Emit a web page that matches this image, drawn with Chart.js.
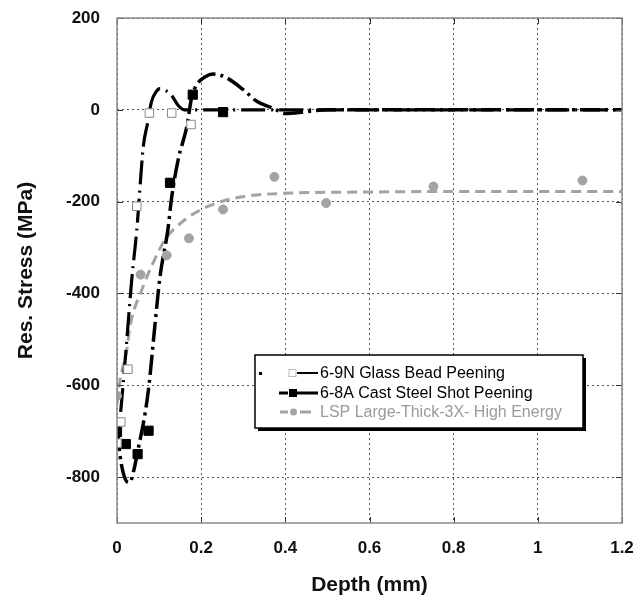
<!DOCTYPE html>
<html>
<head>
<meta charset="utf-8">
<script src="https://cdn.jsdelivr.net/npm/chart.js@4.4.0/dist/chart.umd.min.js"></script>
<style>
  html, body { margin: 0; padding: 0; background: #fff; }
  canvas { display: block; }
</style>
</head>
<body>
<canvas id="chart" width="639" height="598"></canvas>
<script>
const xTicks = [0, 0.2, 0.4, 0.6, 0.8, 1, 1.2];
const yTicks = [-800, -600, -400, -200, 0, 200];

// measured points
const glassDepth = [0, 0.009, 0.026, 0.047, 0.077, 0.13, 0.176];
const glassStress = [-726, -680, -565, -210, -7, -7, -32];
const steelDepth = [0, 0.021, 0.049, 0.075, 0.126, 0.18, 0.252];
const steelStress = [-702, -728, -750, -699, -159, 33, -5];
const lspDepth = [0, 0.056, 0.118, 0.171, 0.252, 0.374, 0.497, 0.752, 1.106];
const lspStress = [-623, -359, -317, -280, -217, -146, -203, -167, -154];

// fitted curves
const glassFitDepth = [0, 0.011, 0.023, 0.035, 0.047, 0.0625, 0.072, 0.082, 0.092, 0.102, 0.115, 0.13, 0.145, 0.16, 0.2, 0.4, 0.6, 0.8, 1, 1.2];
const glassFitStress = [-740, -635, -505, -370, -262, -80, -32, 18, 38, 46, 42, 31, 10, 0, 0, 0, 0, 0, 0, 0];
const steelFitDepth = [0, 0.01, 0.02, 0.03, 0.04, 0.05, 0.067, 0.076, 0.09, 0.102, 0.121, 0.13, 0.145, 0.166, 0.177, 0.19, 0.21, 0.228, 0.26, 0.3, 0.333, 0.372, 0.4, 0.45, 0.5, 0.6, 0.8, 1, 1.2];
const steelFitStress = [-700, -770, -805, -812, -785, -740, -660, -600, -470, -365, -260, -190, -110, -36, 25, 55, 72, 78, 70, 44, 18, 3, -8, -4, 0, 0, 0, 0, 0];
const lspFitDepth = [0, 0.007, 0.023, 0.031, 0.062, 0.086, 0.114, 0.162, 0.217, 0.293, 0.395, 0.6, 0.8, 1, 1.2];
const lspFitStress = [-640, -590, -525, -472, -385, -333, -283, -239, -210, -190, -182, -179, -178, -178, -178];

const GREY = '#a3a3a3';
const FONT = '"Liberation Sans", Arial, sans-serif';

const toPoints = (xs, ys) => xs.map((x, i) => ({ x: x, y: ys[i] }));

const curve = (xs, ys, color, dash, width) => ({
    data: toPoints(xs, ys),
    showLine: true,
    borderColor: color,
    borderWidth: width,
    borderDash: dash,
    pointRadius: 0,
    cubicInterpolationMode: 'monotone',
    order: 2
});

const markers = (xs, ys, style, fill, stroke, radius) => ({
    data: toPoints(xs, ys),
    showLine: false,
    pointStyle: style,
    pointRadius: radius,
    pointBackgroundColor: fill,
    pointBorderColor: stroke,
    pointBorderWidth: 1,
    order: 1
});

// inner tick marks + plot frame
const framePlugin = {
    id: 'frame',
    afterDatasetsDraw(chart) {
        const { ctx, chartArea: a, scales } = chart;
        ctx.save();
        ctx.strokeStyle = '#333';
        ctx.lineWidth = 1;
        ctx.beginPath();
        xTicks.forEach(v => {
            const px = Math.round(scales.x.getPixelForValue(v)) + 0.5;
            ctx.moveTo(px, a.bottom); ctx.lineTo(px, a.bottom - 6);
            ctx.moveTo(px, a.top); ctx.lineTo(px, a.top + 6);
        });
        yTicks.forEach(v => {
            const py = Math.round(scales.y.getPixelForValue(v)) + 0.5;
            ctx.moveTo(a.left, py); ctx.lineTo(a.left + 6, py);
            ctx.moveTo(a.right, py); ctx.lineTo(a.right - 6, py);
        });
        ctx.stroke();
        ctx.strokeStyle = '#8a8a8a';
        ctx.lineWidth = 1.5;
        ctx.strokeRect(a.left, a.top, a.right - a.left, a.bottom - a.top);
        ctx.restore();
    }
};

// boxed legend with shadow, as in the source figure
const legendPlugin = {
    id: 'boxLegend',
    afterDraw(chart) {
        const ctx = chart.ctx;
        const bx = 255, by = 355, bw = 328, bh = 73;
        ctx.save();
        ctx.fillStyle = '#000';
        ctx.fillRect(bx + 3, by + 3, bw, bh);
        ctx.fillStyle = '#fff';
        ctx.fillRect(bx, by, bw, bh);
        ctx.strokeStyle = '#000';
        ctx.lineWidth = 1.5;
        ctx.strokeRect(bx, by, bw, bh);

        const rows = [373, 393, 412];
        const labels = chart.data.datasets.filter(d => d.label).map(d => d.label);

        // row 1
        ctx.fillStyle = '#000';
        ctx.fillRect(259, rows[0] - 1, 3, 3);
        ctx.lineWidth = 2;
        ctx.beginPath(); ctx.moveTo(297, rows[0]); ctx.lineTo(318, rows[0]); ctx.stroke();
        ctx.fillStyle = '#fff';
        ctx.strokeStyle = '#bbb';
        ctx.lineWidth = 1;
        ctx.fillRect(289, rows[0] - 3.5, 7, 7);
        ctx.strokeRect(289, rows[0] - 3.5, 7, 7);

        // row 2
        ctx.strokeStyle = '#000';
        ctx.lineWidth = 3;
        ctx.beginPath(); ctx.moveTo(279, rows[1]); ctx.lineTo(288, rows[1]); ctx.moveTo(297, rows[1]); ctx.lineTo(318, rows[1]); ctx.stroke();
        ctx.fillStyle = '#000';
        ctx.fillRect(289, rows[1] - 4, 8, 8);

        // row 3
        ctx.strokeStyle = GREY;
        ctx.lineWidth = 3;
        ctx.beginPath(); ctx.moveTo(280, rows[2]); ctx.lineTo(288, rows[2]); ctx.moveTo(300, rows[2]); ctx.lineTo(311, rows[2]); ctx.stroke();
        ctx.fillStyle = GREY;
        ctx.beginPath(); ctx.arc(293.5, rows[2], 3.5, 0, Math.PI * 2); ctx.fill();

        ctx.font = '16px ' + FONT;
        ctx.textBaseline = 'middle';
        ctx.textAlign = 'left';
        labels.forEach((t, i) => {
            ctx.fillStyle = i === 2 ? '#9a9a9a' : '#000';
            ctx.fillText(t, 320, rows[i] + 1);
        });
        ctx.restore();
    }
};

const datasets = [
    Object.assign(markers(glassDepth, glassStress, 'rect', '#fff', '#888', 6), { label: '6-9N Glass Bead Peening' }),
    Object.assign(markers(steelDepth, steelStress, 'rect', '#000', '#000', 6.5), { label: '6-8A Cast Steel Shot Peening' }),
    Object.assign(markers(lspDepth, lspStress, 'circle', GREY, GREY, 4.5), { label: 'LSP Large-Thick-3X- High Energy' }),
    curve(glassFitDepth, glassFitStress, '#000', [24, 6, 2, 6], 3.2),
    curve(steelFitDepth, steelFitStress, '#000', [20, 5, 3, 5], 3.5),
    curve(lspFitDepth, lspFitStress, GREY, [10, 6], 3)
];

new Chart(document.getElementById('chart'), {
    type: 'scatter',
    data: { datasets: datasets },
    options: {
        responsive: false,
        animation: false,
        layout: { padding: { top: 18, right: 17, left: 0, bottom: 0 } },
        plugins: { legend: { display: false }, tooltip: { enabled: false } },
        scales: {
            x: {
                type: 'linear',
                min: 0, max: 1.2,
                afterBuildTicks: s => { s.ticks = xTicks.map(v => ({ value: v })); },
                afterFit: s => { s.height = 75; s.paddingLeft = 0; s.paddingRight = 0; },
                grid: { color: '#555', lineWidth: 1, drawTicks: false },
                border: { display: false, dash: [2, 3] },
                ticks: {
                    padding: 15,
                    color: '#111',
                    font: { family: FONT, size: 17, weight: 'bold' },
                    callback: v => String(v)
                },
                title: {
                    display: true,
                    text: 'Depth (mm)',
                    color: '#111',
                    font: { family: FONT, size: 21, weight: 'bold' },
                    padding: { top: 3, bottom: 0 }
                }
            },
            y: {
                type: 'linear',
                min: -900, max: 200,
                afterBuildTicks: s => { s.ticks = yTicks.map(v => ({ value: v })); },
                afterFit: s => { s.width = 117; s.paddingTop = 0; s.paddingBottom = 0; },
                grid: { color: '#555', lineWidth: 1, drawTicks: false },
                border: { display: false, dash: [2, 3] },
                ticks: {
                    padding: 17,
                    color: '#111',
                    font: { family: FONT, size: 17, weight: 'bold' }
                },
                title: {
                    display: true,
                    text: 'Res. Stress (MPa)',
                    color: '#111',
                    font: { family: FONT, size: 21, weight: 'bold' },
                    padding: { top: 14, bottom: 0 }
                }
            }
        }
    },
    plugins: [framePlugin, legendPlugin]
});
</script>
</body>
</html>
